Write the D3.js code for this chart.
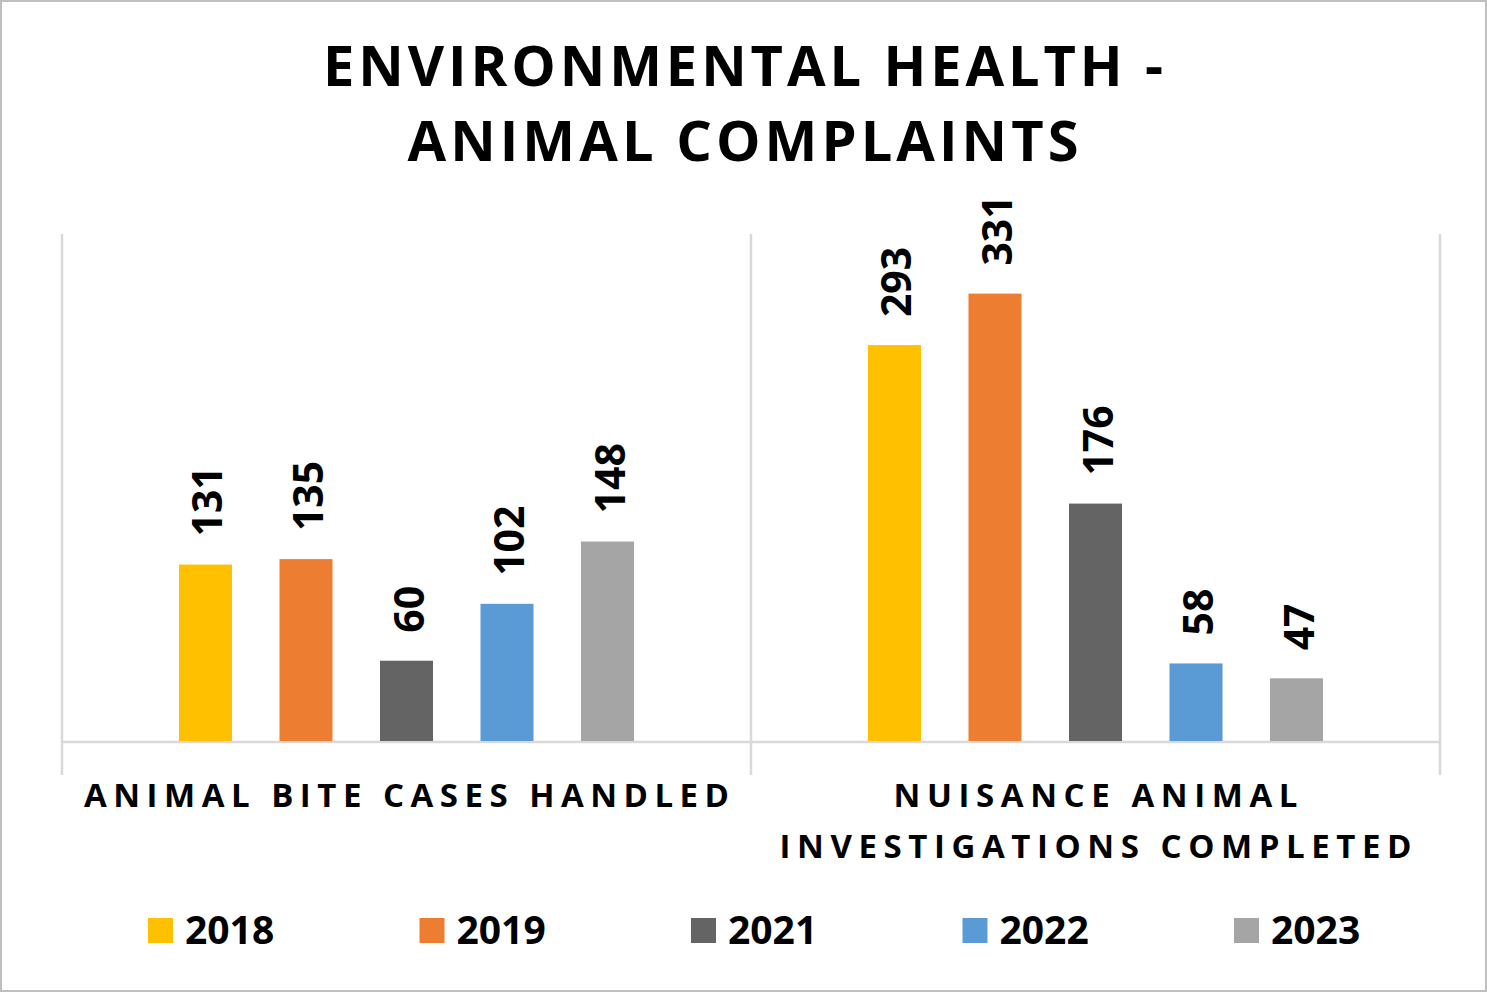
<!DOCTYPE html>
<html>
<head>
<meta charset="utf-8">
<script src="https://cdn.jsdelivr.net/npm/d3@7"></script>
<style>
  html, body { margin: 0; padding: 0; background: #fff; }
  svg { display: block; }
  text { font-family: "Open Sans", "DejaVu Sans", sans-serif; font-weight: 700; fill: #000; }
</style>
</head>
<body>
<svg id="chart" width="1487" height="992"></svg>
<script>
// ---- data ----
const titleLines = ["ENVIRONMENTAL HEALTH -", "ANIMAL COMPLAINTS"];
const categories = ["ANIMAL BITE CASES HANDLED", "NUISANCE ANIMAL INVESTIGATIONS COMPLETED"];
const categoryLines = [["ANIMAL BITE CASES HANDLED"], ["NUISANCE ANIMAL", "INVESTIGATIONS COMPLETED"]];
const years = ["2018", "2019", "2021", "2022", "2023"];
const colors = ["#FFC000", "#ED7D31", "#646464", "#5B9BD5", "#A5A5A5"];
const biteCases = [131, 135, 60, 102, 148];
const nuisanceInvestigations = [293, 331, 176, 58, 47];
const seriesValues = [biteCases, nuisanceInvestigations];

// ---- layout ----
const W = 1487, H = 992;
const svg = d3.select("#chart");
svg.append("rect").attr("x", 1).attr("y", 1).attr("width", W - 2).attr("height", H - 2)
  .attr("fill", "#fff").attr("stroke", "#bfbfbf").attr("stroke-width", 2);

const plot = { left: 62, right: 1440, top: 234, bottom: 742 };
const x0 = d3.scaleBand().domain(categories).range([plot.left, plot.right]).paddingInner(0).paddingOuter(0);
const groupWidth = 550;
const x1 = d3.scaleBand().domain(years).range([0, groupWidth]).padding(0.4726);
const y = d3.scaleLinear().domain([0, 375]).range([plot.bottom, plot.top]);
const color = d3.scaleOrdinal().domain(years).range(colors);

// title
const title = svg.append("g");
const titleTargets = [840, 671];
titleLines.forEach((t, i) => {
  title.append("text")
    .attr("x", 743).attr("y", 86 + i * 75)
    .attr("text-anchor", "middle")
    .attr("font-size", 56)
    .attr("textLength", titleTargets[i]).attr("lengthAdjust", "spacing")
    .text(t);
});

// gridlines (category separators + baseline)
const grid = svg.append("g").attr("stroke", "#d9d9d9").attr("stroke-width", 2.5);
const sepXs = categories.map(c => x0(c)).concat([x0(categories[categories.length - 1]) + x0.bandwidth()]);
grid.selectAll("line.sep").data(sepXs).join("line")
  .attr("x1", d => d).attr("x2", d => d)
  .attr("y1", plot.top).attr("y2", plot.bottom + 33);
grid.append("line").attr("x1", plot.left).attr("x2", plot.right)
  .attr("y1", y(0)).attr("y2", y(0));

// bars
const data = [];
categories.forEach((c, ci) => years.forEach((yr, yi) => data.push({ c, yr, v: seriesValues[ci][yi] })));
const groupOffset = (x0.bandwidth() - groupWidth) / 2;
const bx = d => x0(d.c) + groupOffset + x1(d.yr);

svg.append("g").selectAll("rect").data(data).join("rect")
  .attr("x", bx).attr("width", x1.bandwidth())
  .attr("y", d => y(d.v)).attr("height", d => y(0) - y(d.v) - 1)
  .attr("fill", d => color(d.yr));

// value labels
svg.append("g").selectAll("text").data(data).join("text")
  .attr("transform", d => `translate(${bx(d) + x1.bandwidth() / 2 + 17},${y(d.v) - 28}) rotate(-90)`)
  .attr("text-anchor", "start")
  .attr("font-size", 41)
  .text(d => d.v);

// category labels
const catTargets = [[645], [404, 632]];
categoryLines.forEach((lines, ci) => {
  lines.forEach((ln, li) => {
    svg.append("text")
      .attr("x", x0(categories[ci]) + x0.bandwidth() / 2)
      .attr("y", 807 + li * 51)
      .attr("text-anchor", "middle")
      .attr("font-size", 33)
      .attr("textLength", catTargets[ci][li]).attr("lengthAdjust", "spacing")
      .text(ln);
  });
});

// legend
const lx = d3.scalePoint().domain(years).range([148, 1234]);
const leg = svg.append("g").selectAll("g").data(years).join("g")
  .attr("transform", d => `translate(${lx(d)},918)`);
leg.append("rect").attr("width", 25).attr("height", 25).attr("fill", d => color(d));
leg.append("text").attr("x", 37).attr("y", 26).attr("font-size", 39).text(d => d);
</script>
</body>
</html>
